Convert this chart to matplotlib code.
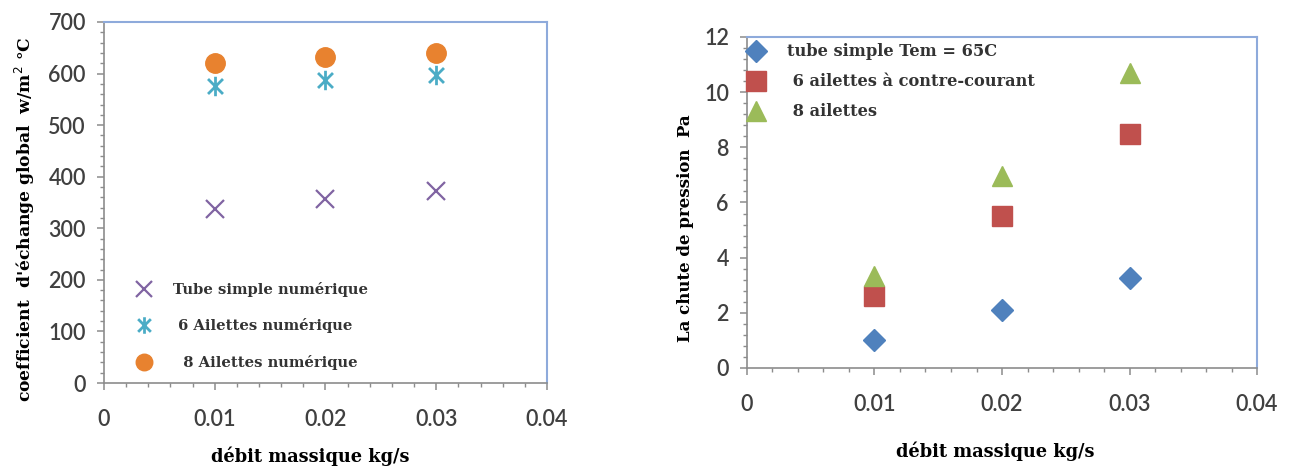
import numpy as np
import matplotlib
matplotlib.use("Agg")
import matplotlib.pyplot as plt
from matplotlib.path import Path
from matplotlib.ticker import MultipleLocator

# data
debit = [0.01, 0.02, 0.03]

# left chart: overall heat-exchange coefficient
coef_tube = [337, 357, 372]
coef_6ail = [575, 588, 597]
coef_8ail = [620, 632, 640]
left_labels = ["Tube simple numérique", " 6 Ailettes numérique", "  8 Ailettes numérique"]

# right chart: pressure drop
dp_tube = [1.0, 2.1, 3.25]
dp_6ail = [2.6, 5.5, 8.5]
dp_8ail = [3.35, 6.95, 10.7]
right_labels = ["tube simple Tem = 65C", " 6 ailettes à contre-courant", " 8 ailettes"]

SPINE_GREY = "#8c8c8c"
SPINE_BLUE = "#8eaadb"
TICK_COL = "#404040"
serif = "DejaVu Serif"
tickfont = "Lato"

# Excel-like star marker: x plus a vertical bar
star = Path([(-1, -1), (1, 1), (-1, 1), (1, -1), (0, -1.3), (0, 1.3)],
            [Path.MOVETO, Path.LINETO, Path.MOVETO, Path.LINETO, Path.MOVETO, Path.LINETO])

fig = plt.figure(figsize=(12.95, 4.68), dpi=100)
ax1 = fig.add_axes([0.0803, 0.1816, 0.3421, 0.7714])
ax2 = fig.add_axes([0.5768, 0.2137, 0.3939, 0.7073])


def style_axes(ax, ymax, ymaj, ymin):
    ax.set_xlim(0, 0.04)
    ax.set_ylim(0, ymax)
    ax.xaxis.set_major_locator(MultipleLocator(0.01))
    ax.xaxis.set_minor_locator(MultipleLocator(0.002))
    ax.yaxis.set_major_locator(MultipleLocator(ymaj))
    ax.yaxis.set_minor_locator(MultipleLocator(ymin))
    ax.xaxis.set_major_formatter(plt.FuncFormatter(lambda v, p: "0" if v == 0 else f"{v:g}"))
    for s in ["left", "bottom"]:
        ax.spines[s].set_color(SPINE_GREY)
        ax.spines[s].set_linewidth(1.2)
    for s in ["top", "right"]:
        ax.spines[s].set_color(SPINE_BLUE)
        ax.spines[s].set_linewidth(1.5)
    ax.tick_params(which="major", direction="out", length=5, width=1.1,
                   color=SPINE_GREY, labelsize=15.5, labelcolor=TICK_COL)
    ax.tick_params(which="minor", direction="out", length=3, width=1.0, color=SPINE_GREY)
    ax.tick_params(axis="x", which="major", pad=14)
    ax.tick_params(axis="y", which="major", pad=8)
    for lab in ax.get_xticklabels() + ax.get_yticklabels():
        lab.set_family(tickfont)
        lab.set_fontweight("semibold")


style_axes(ax1, 700, 100, 20)
style_axes(ax2, 12, 2, 0.4)

# left chart
ax1.plot(debit, coef_tube, linestyle="none", marker="x", ms=13, mew=1.6,
         color="#8064a2", label=left_labels[0])
ax1.plot(debit, coef_6ail, linestyle="none", marker=star, ms=14, mew=2.0,
         color="#4bacc6", label=left_labels[1])
ax1.plot(debit, coef_8ail, linestyle="none", marker="o", ms=14,
         color="#e8822f", label=left_labels[2])
ax1.set_xlabel("débit massique kg/s", family=serif, fontweight="bold", fontsize=12.8)
ax1.xaxis.set_label_coords(0.465, -0.175)
ax1.set_ylabel("coefficient  d'échange global  w/m$^2$ °C", family=serif,
               fontweight="bold", fontsize=12.3)
ax1.yaxis.set_label_coords(-0.152, 0.454)
leg1 = ax1.legend(loc="lower left", bbox_to_anchor=(0.04, 0.0), frameon=False,
                  prop={"family": serif, "weight": "bold", "size": 10.6},
                  handletextpad=1.4, labelspacing=1.45, handlelength=1.2, markerscale=0.85)
for t in leg1.get_texts():
    t.set_color("#333333")

# right chart
ax2.plot(debit, dp_tube, linestyle="none", marker="D", ms=11,
         color="#4f81bd", label=right_labels[0])
ax2.plot(debit, dp_6ail, linestyle="none", marker="s", ms=15,
         color="#c0504d", label=right_labels[1])
ax2.plot(debit, dp_8ail, linestyle="none", marker="^", ms=15,
         color="#9bbb59", label=right_labels[2])
ax2.set_xlabel("débit massique kg/s", family=serif, fontweight="bold", fontsize=12.8)
ax2.xaxis.set_label_coords(0.486, -0.222)
ax2.set_ylabel("La chute de pression  Pa", family=serif, fontweight="bold", fontsize=12)
ax2.yaxis.set_label_coords(-0.104, 0.423)
leg2 = ax2.legend(loc="upper left", bbox_to_anchor=(-0.03, 1.025), frameon=False,
                  prop={"family": serif, "weight": "bold", "size": 11.7},
                  handletextpad=1.3, labelspacing=0.8, handlelength=1.2)
for t in leg2.get_texts():
    t.set_color("#333333")

fig.savefig("out.png", dpi=100)
